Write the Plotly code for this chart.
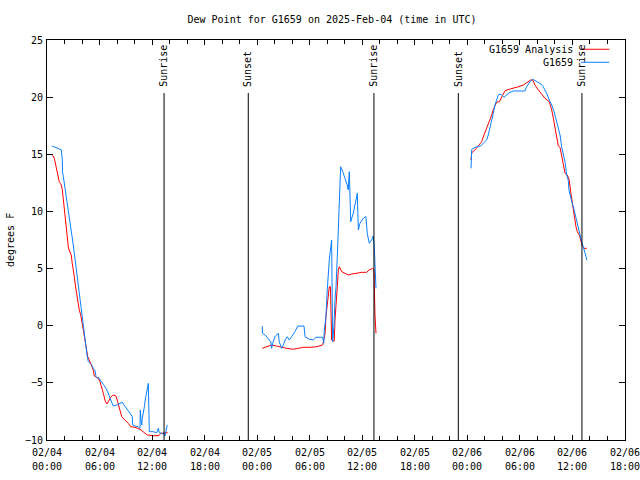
import pandas as pd
import plotly.graph_objects as go

BASE = pd.Timestamp("2025-02-04 00:00")

# minutes since 2025-02-04 00:00 UTC, dew point (deg F)
obs_min_1 = [36, 98, 105, 106, 112, 119, 125, 132, 139, 146, 153, 160, 173, 180, 187, 194, 201, 208, 214, 221,
             226, 235, 242, 249, 256, 262, 269, 276, 283, 295, 306, 317, 329, 336, 345, 351, 363, 375, 386, 404,
             416, 432, 443, 454, 478, 500, 516, 528, 541, 557, 573, 584, 587, 603, 625, 637, 639, 644, 649, 653,
             660, 667, 673, 680, 687, 694, 701, 728, 752, 763, 769, 786, 802, 808, 815, 824]
obs_val_1 = [15.73, 15.38, 14.5, 13.48, 13.04, 12.46, 11.88, 11.29, 10.71, 10.13, 9.25, 8.66, 7.79, 7.06, 6.34,
             5.6, 4.88, 4.15, 3.56, 2.69, 2.25, 1.38, 0.5, -0.09, -0.52, -1.25, -1.98, -2.71, -3.15, -3.29,
             -3.44, -3.73, -3.94, -4.46, -4.6, -4.51, -4.69, -4.9, -5.13, -5.48, -5.77, -6.35, -6.79, -7.03,
             -6.94, -6.79, -6.7, -6.94, -7.14, -7.44, -7.73, -7.96, -8.69, -8.78, -8.84, -8.98, -7.38, -8.25,
             -8.69, -8.1, -7.66, -7.09, -6.5, -5.91, -5.34, -5.04, -9.27, -9.27, -9.36, -8.98, -9.36, -9.41,
             -9.48, -9.65, -9.27, -8.69]

obs_min_2 = [1475, 1476, 1494, 1516, 1533, 1539, 1546, 1562, 1585, 1591, 1608, 1619, 1631, 1646, 1660, 1676,
             1699, 1718, 1761, 1768, 1797, 1824, 1843, 1889, 1896, 1900, 1911, 1920, 1927, 1934, 1939, 1946,
             1950, 1957, 1966, 1973, 1980, 1989, 1996, 2003, 2012, 2026, 2042, 2057, 2064, 2071, 2081, 2098,
             2117, 2126, 2133, 2144, 2167, 2185, 2194, 2208, 2224, 2235, 2242, 2254]
obs_val_2 = [-0.03, -0.66, -0.81, -1.1, -1.4, -1.98, -1.54, -0.96, -0.66, -1.4, -1.98, -1.69, -1.25, -0.96,
             -1.25, -0.96, -0.52, -0.03, -0.03, -0.96, -1.19, -1.25, -1.01, -1.01, -1.54, -0.38, 0.79, 3.13,
             4.88, 5.75, 6.34, 6.86, 7.5, -1.4, -0.09, 2.25, 3.41, 6.04, 9.1, 12.16, 13.91, 13.48, 12.9, 12.31,
             11.88, 13.48, 9.1, 9.84, 11.0, 11.59, 8.38, 8.96, 9.4, 9.54, 8.09, 7.21, 7.5, 7.85, 6.91, 3.27]

obs_min_3 = [2905, 2906, 2910, 2921, 2944, 2971, 2989, 3012, 3023, 3035, 3047, 3058, 3069, 3081, 3092, 3104,
             3115, 3131, 3149, 3167, 3195, 3229, 3275, 3286, 3309, 3328, 3355, 3384, 3400, 3412, 3428, 3441,
             3458, 3474, 3487, 3503, 3515, 3526, 3537, 3551, 3560, 3571, 3576, 3583, 3595, 3606, 3617, 3624,
             3633, 3640, 3652, 3663, 3674, 3686, 3693, 3698]
obs_val_3 = [13.77, 14.79, 15.44, 15.52, 15.66, 15.73, 15.96, 16.25, 16.69, 17.27, 17.85, 18.59, 19.31, 19.75,
             20.19, 20.25, 20.19, 19.99, 20.19, 20.39, 20.54, 20.54, 20.54, 20.91, 21.35, 21.56, 21.35, 21.15,
             20.91, 20.63, 20.19, 19.75, 19.31, 18.73, 18.0, 17.27, 16.69, 15.66, 14.94, 14.21, 13.19, 12.75,
             11.88, 11.44, 10.85, 10.41, 9.84, 9.25, 8.81, 8.38, 7.79, 7.35, 6.91, 6.48, 6.04, 5.75]

ana_min_1 = [36, 43, 50, 57, 64, 71, 77, 84, 91, 98, 105, 112, 119, 125, 132, 139, 146, 153, 166, 173, 180,
             187, 194, 201, 206, 214, 221, 231, 238, 245, 251, 258, 265, 272, 279, 290, 306, 317, 324, 336,
             351, 363, 375, 386, 397, 409, 420, 436, 454, 473, 484, 495, 512, 534, 557, 573, 603, 637, 660,
             687, 728, 767, 779, 802, 827]
ana_val_1 = [14.88, 14.85, 14.65, 14.21, 13.77, 13.34, 12.9, 12.6, 12.46, 12.31, 11.88, 11.0, 10.27, 9.54, 8.52,
             7.79, 6.91, 6.54, 6.19, 5.46, 5.02, 4.29, 3.56, 2.98, 2.25, 1.81, 1.38, 0.94, 0.5, -0.09, -0.52,
             -1.1, -1.69, -2.27, -2.71, -3.0, -3.44, -3.88, -4.4, -4.51, -4.6, -4.9, -5.34, -5.91, -6.5,
             -6.85, -6.65, -6.26, -6.06, -6.15, -6.65, -7.23, -7.96, -8.25, -8.54, -8.84, -8.89, -9.06,
             -9.27, -9.56, -9.62, -9.62, -9.41, -9.36, -9.36]

ana_min_2 = [1475, 1505, 1539, 1574, 1608, 1642, 1687, 1722, 1756, 1802, 1848, 1889, 1898, 1905, 1911, 1920,
             1934, 1942, 1950, 1961, 1968, 1973, 1980, 1989, 1996, 2003, 2019, 2042, 2064, 2088, 2110, 2133,
             2156, 2190, 2208, 2231, 2240, 2247, 2254]
ana_val_2 = [-1.98, -1.84, -1.69, -1.78, -1.89, -1.98, -2.06, -1.98, -1.89, -1.89, -1.84, -1.69, -1.25, -0.66,
             0.79, 1.96, 3.41, 3.41, -1.25, -1.34, -1.34, 0.5, 2.25, 3.41, 4.88, 5.16, 4.73, 4.58, 4.44, 4.52,
             4.58, 4.67, 4.67, 4.67, 4.88, 5.02, 4.88, 0.94, -0.66]

ana_min_3 = [2905, 2910, 2932, 2955, 2978, 2994, 3008, 3023, 3035, 3047, 3058, 3069, 3081, 3099, 3115, 3138,
             3167, 3195, 3229, 3263, 3297, 3314, 3328, 3343, 3366, 3382, 3412, 3441, 3458, 3469, 3480, 3492,
             3503, 3515, 3526, 3537, 3549, 3565, 3578, 3588, 3601, 3610, 3617, 3624, 3633, 3647, 3656, 3670,
             3679, 3698]
ana_val_3 = [14.5, 15.14, 15.38, 15.73, 16.1, 16.69, 17.13, 17.56, 18.0, 18.44, 18.94, 19.31, 19.55, 19.6,
             20.04, 20.56, 20.69, 20.77, 20.91, 21.06, 21.35, 21.5, 21.5, 21.06, 20.63, 20.34, 19.9, 19.6,
             18.88, 18.15, 17.41, 16.54, 15.73, 15.61, 14.94, 14.21, 13.34, 13.19, 12.75, 11.73, 10.56, 9.98,
             9.4, 8.66, 8.23, 7.94, 7.5, 6.91, 6.77, 6.77]

# sun events (minutes since 2025-02-04 00:00 UTC)
event_min = [802, 1379, 2240, 2818, 3665]
event_lbl = ["Sunrise", "Sunset", "Sunrise", "Sunset", "Sunrise"]

y_ticks = [-10, -5, 0, 5, 10, 15, 20, 25]
x_tick_hours = [0, 6, 12, 18, 24, 30, 36, 42, 48, 54, 60, 66]
x_tick_date = ["02/04", "02/04", "02/04", "02/04", "02/05", "02/05", "02/05", "02/05",
               "02/06", "02/06", "02/06", "02/06"]
x_tick_time = ["00:00", "06:00", "12:00", "18:00", "00:00", "06:00", "12:00", "18:00",
               "00:00", "06:00", "12:00", "18:00"]


def join(segs):
    xs, ys = [], []
    for mins, vals in segs:
        if xs:
            xs.append(None)
            ys.append(None)
        xs += [BASE + pd.Timedelta(minutes=m) for m in mins]
        ys += vals
    return xs, ys


FONT = "DejaVu Sans Mono"
FS = 10
fig = go.Figure()

ax, ay = join([(ana_min_1, ana_val_1), (ana_min_2, ana_val_2), (ana_min_3, ana_val_3)])
ox, oy = join([(obs_min_1, obs_val_1), (obs_min_2, obs_val_2), (obs_min_3, obs_val_3)])

fig.add_trace(go.Scatter(x=ax, y=ay, mode="lines", name="G1659 Analysis",
                         line=dict(color="#ff0000", width=1), connectgaps=False))
fig.add_trace(go.Scatter(x=ox, y=oy, mode="lines", name="G1659",
                         line=dict(color="#0a80ff", width=1), connectgaps=False))

line_top = 0.8675
for m, lbl in zip(event_min, event_lbl):
    t = BASE + pd.Timedelta(minutes=m)
    fig.add_shape(type="line", xref="x", yref="paper", x0=t, x1=t, y0=0, y1=line_top,
                  line=dict(color="black", width=1))
    fig.add_annotation(x=t, xref="x", y=0.878, yref="paper", text=lbl, textangle=-90,
                       showarrow=False, xanchor="center", yanchor="bottom",
                       font=dict(family=FONT, size=FS, color="black"))

# x tick labels (two rows, gnuplot style)
for h, d, tm in zip(x_tick_hours, x_tick_date, x_tick_time):
    t = BASE + pd.Timedelta(hours=h)
    fig.add_annotation(x=t, xref="x", y=0, yref="paper", yshift=-12, text=d, showarrow=False,
                       xanchor="center", yanchor="middle", font=dict(family=FONT, size=FS, color="black"))
    fig.add_annotation(x=t, xref="x", y=0, yref="paper", yshift=-26, text=tm, showarrow=False,
                       xanchor="center", yanchor="middle", font=dict(family=FONT, size=FS, color="black"))

# legend drawn gnuplot-style (text right-aligned, sample to the right)
for i, (name, col) in enumerate([("G1659 Analysis", "#ff0000"), ("G1659", "#0a80ff")]):
    yy = 0.9768 - i * 0.0325
    fig.add_annotation(x=0.9135, xref="paper", y=yy, yref="paper", text=name, showarrow=False,
                       xanchor="right", yanchor="middle", font=dict(family=FONT, size=FS, color="black"))
    fig.add_shape(type="line", xref="paper", yref="paper", x0=0.9239, x1=0.9728, y0=yy, y1=yy,
                  line=dict(color=col, width=1))

fig.add_annotation(x=-0.064, xref="paper", y=0.5, yref="paper", text="degrees F", textangle=-90,
                   showarrow=False, xanchor="center", yanchor="middle",
                   font=dict(family=FONT, size=FS, color="black"))

fig.update_layout(
    width=640, height=480,
    margin=dict(l=47, r=15, t=40, b=40, autoexpand=False),
    paper_bgcolor="white", plot_bgcolor="white",
    showlegend=False,
    hovermode=False,
    title=dict(text="Dew Point for G1659 on 2025-Feb-04 (time in UTC)", x=332 / 640,
               xanchor="center", y=1 - 19 / 480, yanchor="middle",
               font=dict(family=FONT, size=FS, color="black")),
    font=dict(family=FONT, size=FS, color="black"),
)
fig.update_xaxes(type="date", range=[BASE, BASE + pd.Timedelta(hours=66)], automargin=False,
                 dtick=6 * 3600 * 1000, tick0=BASE, showticklabels=False,
                 ticks="inside", ticklen=5, tickcolor="black", showline=True, linecolor="black",
                 linewidth=1, mirror="ticks", showgrid=False, zeroline=False,
                 minor=dict(dtick=2 * 3600 * 1000, ticks="inside", ticklen=4, tickcolor="black"))
fig.update_yaxes(range=[-10, 25], tickvals=y_ticks, ticks="inside", ticklen=6, tickcolor="black",
                 showline=True, linecolor="black", linewidth=1, mirror="ticks", showgrid=False,
                 zeroline=False, automargin=False, ticklabelstandoff=1,
                 tickfont=dict(family=FONT, size=FS))

fig.write_html("out.html", config={"displayModeBar": False},
               post_script="document.body.style.margin='0';document.body.style.overflow='hidden';")
